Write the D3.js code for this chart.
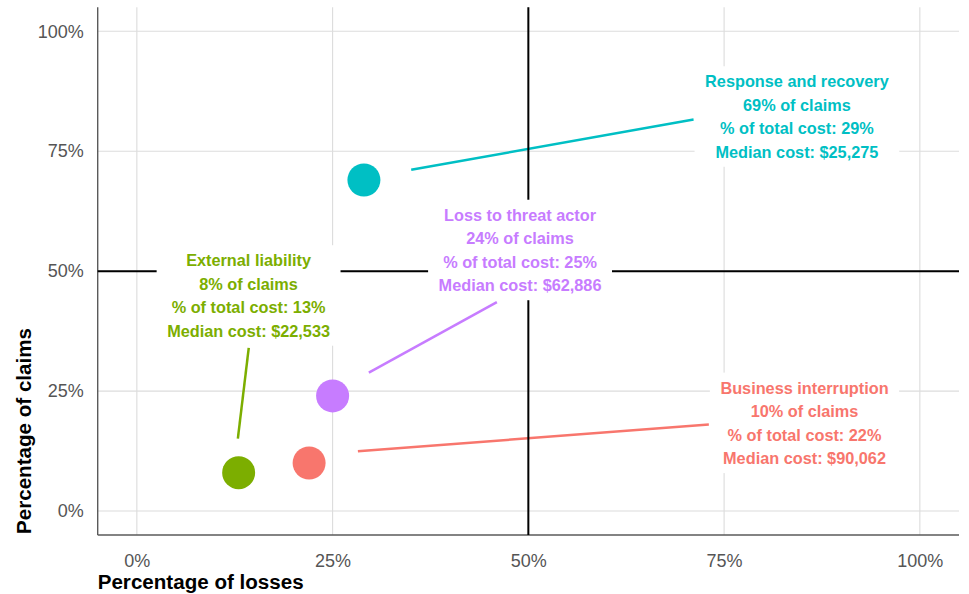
<!DOCTYPE html>
<html>
<head>
<meta charset="utf-8">
<script src="https://cdn.jsdelivr.net/npm/d3@7"></script>
<style>
  html, body { margin: 0; padding: 0; background: #fff; }
  svg { display: block; }
</style>
</head>
<body>
<svg id="chart" width="969" height="594"></svg>
<script>
// Claim categories and their values
const categories = ["Response and recovery", "Loss to threat actor", "External liability", "Business interruption"];
const shareOfLosses = [0.29, 0.25, 0.13, 0.22];   // x: % of total cost
const shareOfClaims = [0.69, 0.24, 0.08, 0.10];   // y: % of claims
const medianCost = [25275, 62886, 22533, 90062];
const colors = ["#00BFC4", "#C77CFF", "#7CAE00", "#F8766D"];
const tickValues = [0, 0.25, 0.5, 0.75, 1];

// Label placement (data units): box centre, leader start and leader end
const labelCenterX = [0.843, 0.4894, 0.1427, 0.8527];
const labelCenterY = [0.8213, 0.5431, 0.4483, 0.1827];
const leaderFromX = [0.3504, 0.2963, 0.1290, 0.2823];
const leaderFromY = [0.7115, 0.2884, 0.1508, 0.1244];
const leaderToX = [0.7110, 0.4598, 0.1429, 0.7305];
const leaderToY = [0.8160, 0.4354, 0.3402, 0.1804];

const svg = d3.select("#chart");
const panel = { left: 97.7, right: 959, top: 7.3, bottom: 535 };

const x = d3.scaleLinear().domain([-0.05, 1.05]).range([panel.left, panel.right]);
const y = d3.scaleLinear().domain([-0.05, 1.05]).range([panel.bottom, panel.top]);
const pct = d3.format(".0%");
const money = d3.format("$,");

// Grid
const grid = svg.append("g");
grid.selectAll("line.gx").data(tickValues).join("line")
  .attr("x1", d => x(d)).attr("x2", d => x(d))
  .attr("y1", panel.top).attr("y2", panel.bottom)
  .attr("stroke", "#dcdcdc").attr("stroke-width", 1.1);
grid.selectAll("line.gy").data(tickValues).join("line")
  .attr("y1", d => y(d)).attr("y2", d => y(d))
  .attr("x1", panel.left).attr("x2", panel.right)
  .attr("stroke", "#dcdcdc").attr("stroke-width", 1.1);

// Axes (labels only, panel frame drawn on left and bottom)
const xAxis = svg.append("g").attr("transform", `translate(0,${panel.bottom})`)
  .call(d3.axisBottom(x).tickValues(tickValues).tickFormat(pct).tickSize(0).tickPadding(19));
const yAxis = svg.append("g").attr("transform", `translate(${panel.left},0)`)
  .call(d3.axisLeft(y).tickValues(tickValues).tickFormat(pct).tickSize(0).tickPadding(14));
[xAxis, yAxis].forEach(a => {
  a.select(".domain").remove();
  a.selectAll("text")
    .attr("font-family", "'Liberation Sans', Arial, sans-serif")
    .attr("font-size", 18).attr("fill", "#555");
});

svg.append("line").attr("x1", panel.left).attr("x2", panel.left)
  .attr("y1", panel.top).attr("y2", panel.bottom)
  .attr("stroke", "#5a5a5a").attr("stroke-width", 1.4);
svg.append("line").attr("x1", panel.left).attr("x2", panel.right)
  .attr("y1", panel.bottom).attr("y2", panel.bottom)
  .attr("stroke", "#5a5a5a").attr("stroke-width", 1.4);

// Axis titles
svg.append("text")
  .attr("x", panel.left).attr("y", 589)
  .attr("font-family", "'Liberation Sans', Arial, sans-serif")
  .attr("font-weight", "bold").attr("font-size", 19.5).attr("fill", "#000")
  .attr("textLength", 206).attr("lengthAdjust", "spacingAndGlyphs")
  .text("Percentage of losses");
svg.append("text")
  .attr("transform", `translate(31,${panel.bottom - 1}) rotate(-90)`)
  .attr("font-family", "'Liberation Sans', Arial, sans-serif")
  .attr("font-weight", "bold").attr("font-size", 19.5).attr("fill", "#000")
  .attr("textLength", 206).attr("lengthAdjust", "spacingAndGlyphs")
  .text("Percentage of claims");

const idx = d3.range(categories.length);

// Leader lines
svg.append("g").selectAll("line").data(idx).join("line")
  .attr("x1", i => x(leaderFromX[i])).attr("y1", i => y(leaderFromY[i]))
  .attr("x2", i => x(leaderToX[i])).attr("y2", i => y(leaderToY[i]))
  .attr("stroke", i => colors[i]).attr("stroke-width", 2.5);

// Quadrant dividers at 50%
svg.append("line").attr("x1", x(0.5)).attr("x2", x(0.5))
  .attr("y1", panel.top).attr("y2", panel.bottom)
  .attr("stroke", "#000").attr("stroke-width", 2);
svg.append("line").attr("y1", y(0.5)).attr("y2", y(0.5))
  .attr("x1", panel.left).attr("x2", panel.right)
  .attr("stroke", "#000").attr("stroke-width", 2);

// Points
svg.append("g").selectAll("circle").data(idx).join("circle")
  .attr("cx", i => x(shareOfLosses[i])).attr("cy", i => y(shareOfClaims[i]))
  .attr("r", 16.5).attr("fill", i => colors[i]);

// Labels with white boxes
const lineGap = 23.5;
const labels = svg.append("g").selectAll("g").data(idx).join("g");
labels.each(function(i) {
  const g = d3.select(this);
  const cx = x(labelCenterX[i]);
  const cy = y(labelCenterY[i]);
  const lines = [
    categories[i],
    `${pct(shareOfClaims[i])} of claims`,
    `% of total cost: ${pct(shareOfLosses[i])}`,
    `Median cost: ${money(medianCost[i])}`
  ];
  const rect = g.append("rect").attr("fill", "#fff");
  const text = g.append("text")
    .attr("font-family", "'Liberation Sans', Arial, sans-serif")
    .attr("font-weight", "bold").attr("font-size", 16.3)
    .attr("fill", colors[i]).attr("text-anchor", "middle");
  const first = cy - 1.5 * lineGap + 5.5;
  lines.forEach((t, k) => {
    text.append("tspan").attr("x", cx).attr("y", first + k * lineGap).text(t);
  });
  const w = d3.max(text.selectAll("tspan").nodes(), n => n.getComputedTextLength());
  const top = first - 21;
  const bottom = first + 3 * lineGap + 9;
  rect.attr("x", cx - w / 2 - 10.5).attr("width", w + 21)
    .attr("y", top).attr("height", bottom - top);
});
</script>
</body>
</html>
